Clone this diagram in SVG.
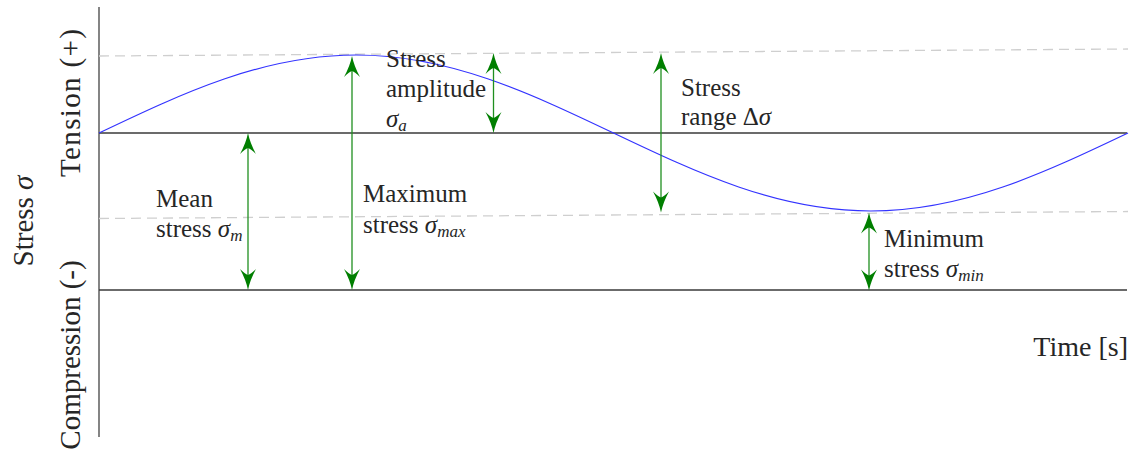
<svg xmlns="http://www.w3.org/2000/svg" width="1134" height="456" viewBox="0 0 1134 456">
  <defs>
    <marker id="ah" viewBox="-15 -10 30 20" refX="0" refY="0" markerWidth="30" markerHeight="20" markerUnits="userSpaceOnUse" orient="auto-start-reverse">
      <path d="M10,0 Q0,-2 -11,-8 Q-6,-3 -5,0 Q-6,3 -11,8 Q0,2 10,0 Z" fill="#007f00"/>
    </marker>
  </defs>
  <rect width="1134" height="456" fill="#ffffff"/>

  <g id="axes" fill="none">
    <line stroke="#333333" stroke-width="1.2" x1="99" y1="7" x2="99" y2="437"/>
    <line stroke="#3a3a3a" stroke-width="1.3" x1="99" y1="133" x2="1127" y2="133"/>
    <line stroke="#3a3a3a" stroke-width="1.3" x1="99" y1="290" x2="1127" y2="290"/>
  </g>

  <g id="guides" fill="none" stroke="#cfcfcf" stroke-width="1.3" stroke-dasharray="10 6">
    <line x1="99" y1="56" x2="1128" y2="49"/>
    <line x1="99" y1="218.5" x2="1128" y2="211.5"/>
  </g>

  <g id="stress-curve">
    <path fill="none" stroke="#3333ff" stroke-width="1.2" d="M99,133 C182.9,93.04 263.15,55 356.25,55 C449.35,55 529.6,93.04 613.5,133 C697.4,172.96 777.65,211 870.75,211 C963.85,211 1044.1,172.96 1128,133"/>
  </g>

  <g id="connectors" fill="none" stroke="#1f8f1f" stroke-width="1.3" marker-start="url(#ah)" marker-end="url(#ah)">
    <line x1="248" y1="143" x2="248" y2="280"/>
    <line x1="352" y1="66" x2="352" y2="280"/>
    <line x1="493.5" y1="63" x2="493.5" y2="123"/>
    <line x1="661" y1="63" x2="661" y2="202.5"/>
    <line x1="869" y1="222.5" x2="869" y2="280.5"/>
  </g>

  <g id="axis-labels" fill="#262626" font-family="Liberation Serif" font-size="29">
    <text text-anchor="middle" transform="translate(33,221) rotate(-90)">Stress <tspan font-style="italic">&#963;</tspan></text>
    <text text-anchor="middle" textLength="148" lengthAdjust="spacing" transform="translate(80,103) rotate(-90)">Tension (+)</text>
    <text text-anchor="middle" transform="translate(80,355) rotate(-90)">Compression (-)</text>
    <text font-size="28" x="1128" y="356" text-anchor="end">Time [s]</text>
  </g>

  <g id="label-amplitude" fill="#262626" font-family="Liberation Serif" font-size="25">
    <text x="386" y="67">Stress</text>
    <text x="386" y="97">amplitude</text>
    <text x="386" y="127"><tspan font-style="italic">&#963;</tspan><tspan font-style="italic" font-size="17" dy="4">a</tspan></text>
  </g>

  <g id="label-range" fill="#262626" font-family="Liberation Serif" font-size="25">
    <text x="681" y="96">Stress</text>
    <text x="681" y="125">range &#916;<tspan font-style="italic">&#963;</tspan></text>
  </g>

  <g id="label-mean" fill="#262626" font-family="Liberation Serif" font-size="25">
    <text x="156" y="207">Mean</text>
    <text x="156" y="237">stress <tspan font-style="italic">&#963;</tspan><tspan font-style="italic" font-size="17" dy="4">m</tspan></text>
  </g>

  <g id="label-max" fill="#262626" font-family="Liberation Serif" font-size="25">
    <text x="363" y="202">Maximum</text>
    <text x="363" y="233">stress <tspan font-style="italic">&#963;</tspan><tspan font-style="italic" font-size="17" dy="4">max</tspan></text>
  </g>

  <g id="label-min" fill="#262626" font-family="Liberation Serif" font-size="25">
    <text x="884" y="247">Minimum</text>
    <text x="884" y="277">stress <tspan font-style="italic">&#963;</tspan><tspan font-style="italic" font-size="17" dy="4">min</tspan></text>
  </g>
</svg>
